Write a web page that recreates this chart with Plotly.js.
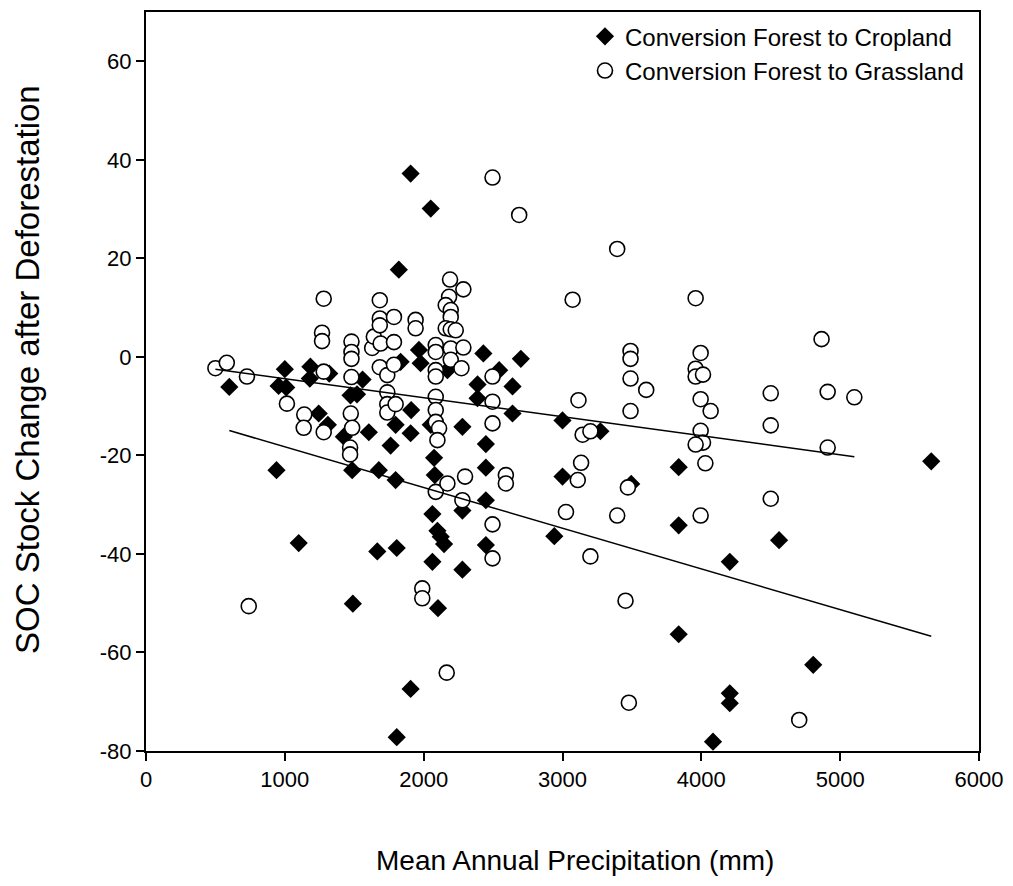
<!DOCTYPE html>
<html>
<head>
<meta charset="utf-8">
<script src="https://cdn.plot.ly/plotly-3.0.1.min.js"></script>
<style>html,body{margin:0;padding:0;background:#fff;}#chart{width:1013px;height:886px;}</style>
</head>
<body>
<div id="chart"></div>
<script>
// Conversion Forest to Cropland (filled diamonds)
var cropX = [600, 940, 955, 1000, 1010, 1100, 1184, 1180, 1244, 1310, 1320, 1425, 1473, 1485, 1490,
  1520, 1560, 1605, 1666, 1677, 1762, 1798, 1798, 1806, 1806, 1821, 1834, 1906, 1910, 1906, 1906,
  1966, 1978, 2051, 2051, 2075, 2080, 2063, 2099, 2123, 2147, 2063, 2103, 2171, 2279, 2279, 2279,
  2388, 2388, 2430, 2448, 2448, 2448, 2448, 2544, 2640, 2640, 2700, 2941, 3000, 3000, 3273, 3495,
  3837, 3837, 3837, 4084, 4205, 4205, 4205, 4560, 4806, 5656];
var cropY = [-6.1, -23.0, -5.9, -2.5, -6.2, -37.8, -2.0, -4.4, -11.5, -13.8, -3.4, -16.2, -7.8, -23.0, -50.1,
  -7.6, -4.6, -15.3, -39.5, -23.0, -18.0, -13.8, -25.0, -38.8, -77.2, 17.7, -1.0, 37.2, -10.8, -15.5, -67.4,
  1.4, -1.3, 30.1, -13.8, -20.5, -24.0, -31.9, -35.3, -36.5, -38.0, -41.6, -51.0, -2.7, -14.2, -31.2, -43.2,
  -5.6, -8.4, 0.7, -17.7, -22.5, -29.1, -38.2, -2.7, -6.0, -11.5, -0.4, -36.4, -12.9, -24.3, -15.1, -25.8,
  -22.4, -34.2, -56.3, -78.1, -41.6, -68.3, -70.3, -37.2, -62.5, -21.2];

// Conversion Forest to Grassland (open circles)
var grassX = [500, 582, 727, 740, 1015, 1140, 1136, 1268, 1268, 1280, 1280, 1280,
  1480, 1480, 1480, 1480, 1475, 1485, 1470, 1470, 1629, 1641, 1684, 1684, 1684, 1690, 1684,
  1738, 1738, 1738, 1738, 1786, 1786, 1786, 1798, 1942, 1942, 1990, 1990,
  2087, 2087, 2087, 2087, 2087, 2087, 2087, 2111, 2099, 2087, 2171, 2166,
  2190, 2183, 2159, 2195, 2195, 2159, 2195, 2231, 2195, 2195, 2286, 2286, 2272, 2298, 2279,
  2496, 2496, 2496, 2496, 2496, 2496, 2592, 2592, 2688, 3025, 3073, 3115, 3145, 3201, 3134, 3110, 3201,
  3394, 3394, 3454, 3471, 3478, 3490, 3490, 3490, 3490, 3603,
  3959, 3995, 3959, 3959, 4012, 3995, 4067, 3995, 4012, 3959, 4029, 3995,
  4500, 4500, 4500, 4705, 4866, 4910, 4910, 5102];
var grassY = [-2.3, -1.2, -4.0, -50.6, -9.5, -11.7, -14.4, 4.9, 3.2, 11.8, -3.0, -15.3,
  3.1, 1.0, -0.4, -4.1, -11.5, -14.4, -18.4, -19.8, 1.8, 4.1, 11.5, 7.8, 6.4, 2.7, -2.1,
  -3.7, -7.2, -9.6, -11.3, 8.1, 3.0, -1.6, -9.6, 7.5, 5.8, -47.0, -49.0,
  2.4, 1.0, -2.7, -4.0, -8.1, -10.8, -13.2, -14.5, -16.9, -27.4, -25.7, -64.1,
  15.7, 12.2, 10.5, 9.5, 8.1, 5.8, 5.6, 5.4, 1.7, -0.6, 13.7, 1.9, -2.3, -24.3, -29.1,
  36.4, -4.0, -9.1, -13.5, -34.0, -40.9, -24.0, -25.7, 28.8, -31.5, 11.6, -8.8, -15.8, -15.1, -21.5, -25.0, -40.5,
  21.9, -32.2, -49.5, -26.5, -70.2, 1.2, -0.4, -4.4, -11.0, -6.7,
  11.9, 0.8, -2.4, -4.0, -3.6, -8.6, -11.0, -15.0, -17.4, -17.8, -21.6, -32.2,
  -7.4, -13.9, -28.8, -73.7, 3.6, -7.1, -18.4, -8.2];

// Linear regression fits (intercept, slope)
var cropFit = [-10.0, -0.00826];
var grassFit = [-0.57, -0.00386];

// Tick values and labels
var xTickVals = [0, 1000, 2000, 3000, 4000, 5000, 6000];
var xTickText = ['0', '1000', '2000', '3000', '4000', '5000', '6000'];
var yTickVals = [-80, -60, -40, -20, 0, 20, 40, 60];
var yTickText = ['-80', '-60', '-40', '-20', '0', '20', '40', '60'];

var seriesNames = ['Conversion Forest to Cropland', 'Conversion Forest to Grassland'];
var xTitle = 'Mean Annual Precipitation (mm)';
var yTitle = 'SOC Stock Change after Deforestation';

function fitLine(xs, coef) {
  var lo = Math.min.apply(null, xs), hi = Math.max.apply(null, xs);
  return {x: [lo, hi], y: [coef[0] + coef[1] * lo, coef[0] + coef[1] * hi]};
}
var cl = fitLine(cropX, cropFit), gl = fitLine(grassX, grassFit);

var font = 'Liberation Sans, Arial, sans-serif';
var traces = [
  {x: cropX, y: cropY, type: 'scatter', mode: 'markers', name: seriesNames[0],
   marker: {symbol: 'diamond', size: 14, color: '#000', line: {width: 0}}},
  {x: grassX, y: grassY, type: 'scatter', mode: 'markers', name: seriesNames[1],
   marker: {symbol: 'circle', size: 15, color: '#fff', line: {width: 1.6, color: '#000'}}},
  {x: cl.x, y: cl.y, type: 'scatter', mode: 'lines', showlegend: false, hoverinfo: 'skip',
   line: {color: '#000', width: 1.5}},
  {x: gl.x, y: gl.y, type: 'scatter', mode: 'lines', showlegend: false, hoverinfo: 'skip',
   line: {color: '#000', width: 1.5}}
];

var layout = {
  width: 1013, height: 886,
  margin: {l: 146, r: 34, t: 12, b: 135},
  paper_bgcolor: '#fff', plot_bgcolor: '#fff',
  font: {family: font, color: '#000', size: 21},
  showlegend: true,
  legend: {x: 0.527, y: 0.997, xanchor: 'left', yanchor: 'top', bgcolor: 'rgba(0,0,0,0)',
           font: {size: 24, family: font}, tracegroupgap: 0, itemwidth: 30},
  xaxis: {range: [0, 6000], tickmode: 'array', tickvals: xTickVals, ticktext: xTickText,
          showgrid: false, zeroline: false,
          showline: true, mirror: true, linecolor: '#000', linewidth: 2,
          ticks: 'outside', ticklen: 8, tickwidth: 2, tickcolor: '#000',
          tickfont: {size: 22}, automargin: false},
  yaxis: {range: [-80, 70], tickmode: 'array', tickvals: yTickVals, ticktext: yTickText,
          showgrid: false, zeroline: false,
          showline: true, mirror: true, linecolor: '#000', linewidth: 2,
          ticks: 'outside', ticklen: 8, tickwidth: 2, tickcolor: '#000',
          tickfont: {size: 22}, automargin: false},
  annotations: [
    {text: xTitle, xref: 'paper', yref: 'paper', x: 0.515, y: -0.1475,
     xanchor: 'center', yanchor: 'middle', showarrow: false, font: {size: 28, family: font}},
    {text: yTitle, xref: 'paper', yref: 'paper', x: -0.1417, y: 0.517, textangle: -90,
     xanchor: 'center', yanchor: 'middle', showarrow: false, font: {size: 33, family: font}}
  ]
};

Plotly.newPlot('chart', traces, layout, {displayModeBar: false, staticPlot: true});
</script>
</body>
</html>
